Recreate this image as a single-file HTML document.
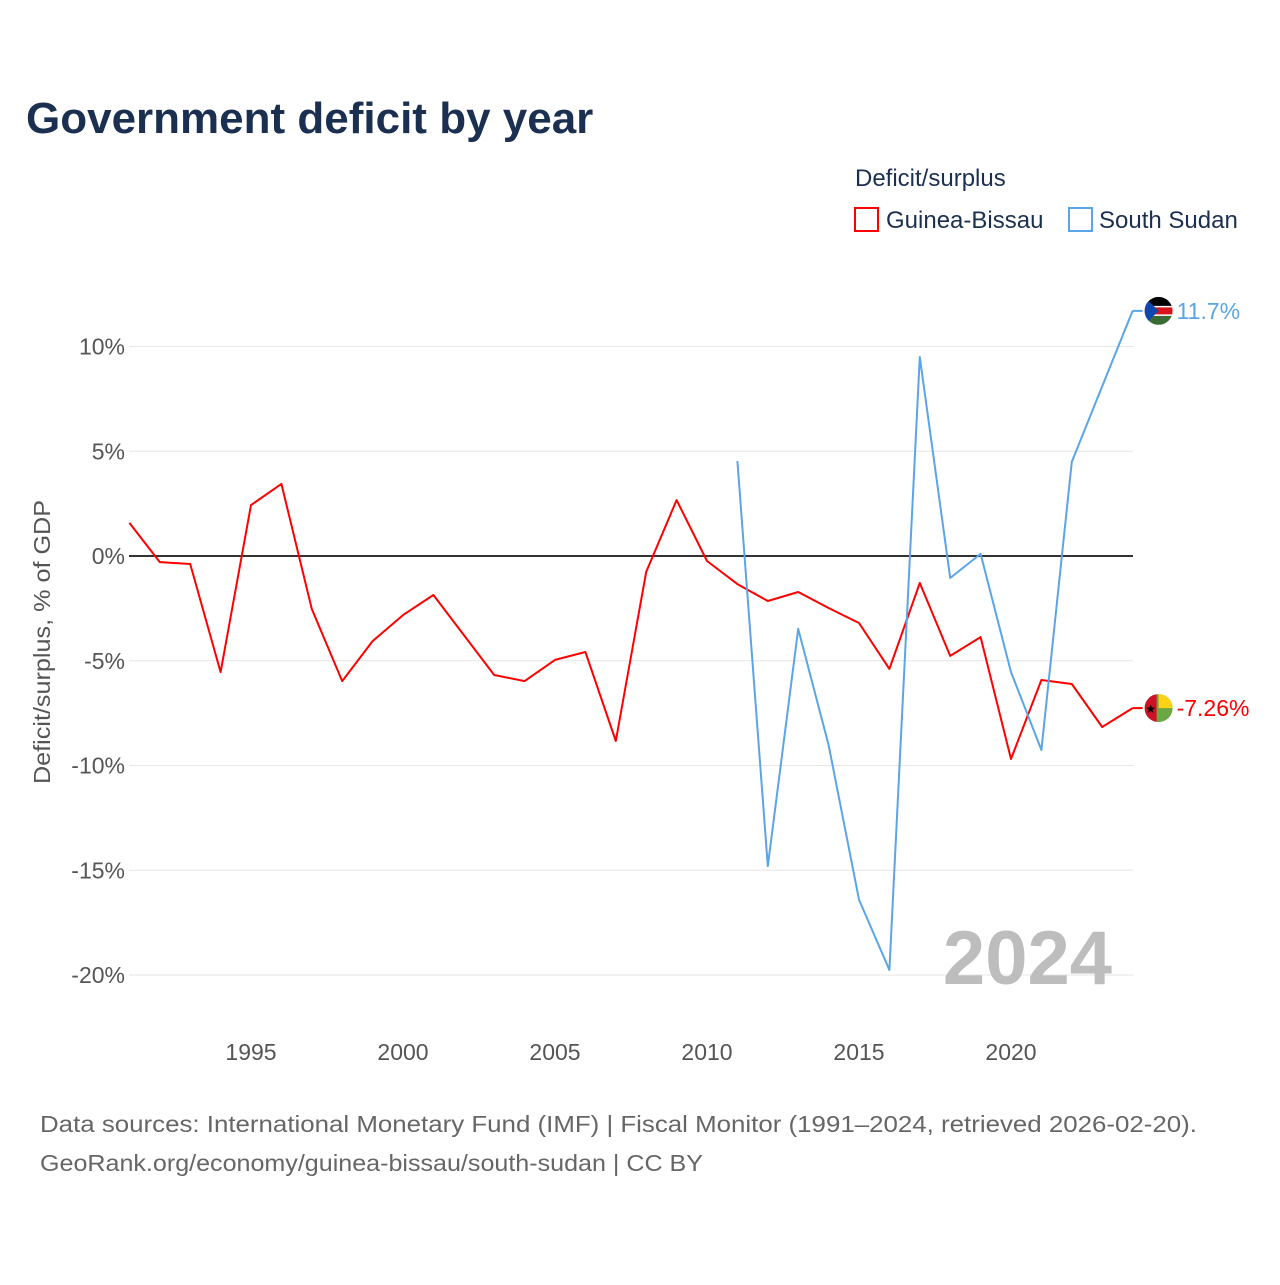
<!DOCTYPE html>
<html><head><meta charset="utf-8">
<style>
body{margin:0;background:#fff;font-family:"Liberation Sans",sans-serif;}
</style></head>
<body>
<svg id="chart" width="1280" height="1280" xmlns="http://www.w3.org/2000/svg" font-family="Liberation Sans, sans-serif">
<text x="26" y="133" font-size="44" font-weight="bold" fill="#1b3050">Government deficit by year</text>
<text x="855" y="186" font-size="24" fill="#1b3050">Deficit/surplus</text>
<g>
<rect x="855" y="208" width="23" height="23" fill="none" stroke="#ff0000" stroke-width="2"/>
<text x="886" y="228" font-size="24" fill="#1b3050">Guinea-Bissau</text></g>
<g>
<rect x="1069" y="208" width="23" height="23" fill="none" stroke="#5aa5e8" stroke-width="2"/>
<text x="1099" y="228" font-size="24" fill="#1b3050">South Sudan</text></g>
<text transform="translate(50,642) rotate(-90)" text-anchor="middle" font-size="23" fill="#555" textLength="284" lengthAdjust="spacingAndGlyphs">Deficit/surplus, % of GDP</text>
<g id="grid"></g><g id="series"></g>
<text x="1112" y="984" text-anchor="end" font-size="76" font-weight="bold" fill="#bdbdbd">2024</text>
<text x="40" y="1132" font-size="23" fill="#666" textLength="1157" lengthAdjust="spacingAndGlyphs">Data sources: International Monetary Fund (IMF) | Fiscal Monitor (1991–2024, retrieved 2026-02-20).</text>
<text x="40" y="1171" font-size="23" fill="#666" textLength="663" lengthAdjust="spacingAndGlyphs">GeoRank.org/economy/guinea-bissau/south-sudan | CC BY</text>
</svg>
<script>
const yTicks=[10,5,0,-5,-10,-15,-20];
const xTicks=[1995,2000,2005,2010,2015,2020];
const gbYears=[1991,1992,1993,1994,1995,1996,1997,1998,1999,2000,2001,2002,2003,2004,2005,2006,2007,2008,2009,2010,2011,2012,2013,2014,2015,2016,2017,2018,2019,2020,2021,2022,2023,2024];
const gbValues=[1.58,-0.29,-0.38,-5.54,2.43,3.44,-2.53,-5.97,-4.06,-2.82,-1.86,-3.77,-5.68,-5.97,-4.96,-4.58,-8.83,-0.76,2.67,-0.24,-1.34,-2.15,-1.72,-2.48,-3.2,-5.39,-1.29,-4.77,-3.87,-9.69,-5.92,-6.11,-8.16,-7.26];
const ssYears=[2011,2012,2013,2014,2015,2016,2017,2018,2019,2020,2021,2022,2023,2024];
const ssValues=[4.53,-14.8,-3.48,-9.02,-16.4,-19.76,9.5,-1.05,0.1,-5.54,-9.26,4.49,8.1,11.7];
const NS="http://www.w3.org/2000/svg";
const x=yr=>129.4+(yr-1991)*30.4;
const y=v=>556-v*20.95;
function mk(t,a,p){const e=document.createElementNS(NS,t);for(const k in a)e.setAttribute(k,a[k]);p.appendChild(e);return e;}
const grid=document.getElementById('grid');
yTicks.forEach(v=>{
 const l=mk('line',{x1:129,x2:1133,y1:y(v),y2:y(v),stroke:v===0?'#333':'#e6e6e6','stroke-width':v===0?2:1},grid);
 
 
 const t=mk('text',{x:125,y:y(v)+8,'text-anchor':'end','font-size':23,fill:'#555'},grid);
 t.textContent=v+'%';
 
 
});
xTicks.forEach(yr=>{
 const t=mk('text',{x:x(yr),y:1060,'text-anchor':'middle','font-size':23,fill:'#555'},grid);
 t.textContent=yr;
 
 
});
const s=document.getElementById('series');
function line(years,vals,color,name,label,flag){
 const pts=years.map((yr,i)=>x(yr).toFixed(1)+','+y(vals[i]).toFixed(1)).join(' ');
 const p=mk('polyline',{points:pts,fill:'none',stroke:color,'stroke-width':2,'stroke-linejoin':'round'},s);
 
 
 const lv=vals[vals.length-1],ly=y(lv),lx=x(years[years.length-1]);
 mk('line',{x1:lx,x2:lx+10,y1:ly,y2:ly,stroke:color,'stroke-width':2},s);
 const g=mk('g',{},s);
 
 
 flag(g,lx+26,ly);
 const t=mk('text',{x:lx+44,y:ly+8,'font-size':23,fill:color},s);
 t.textContent=label;
 
 
}
line(gbYears,gbValues,'#ff0000','guinea-bissau','-7.26%',(g,cx,cy)=>{
 const cp=mk('clipPath',{id:'c1'},g);mk('circle',{cx:cx,cy:cy,r:14},cp);
 const gg=mk('g',{'clip-path':'url(#c1)'},g);
 mk('rect',{x:cx-14,y:cy-14,width:28,height:28,fill:'#6aa842'},gg);
 mk('rect',{x:cx,y:cy-14,width:14,height:14,fill:'#fcd116'},gg);
 mk('rect',{x:cx-14,y:cy-14,width:12,height:28,fill:'#ce1126'},gg);
 mk('text',{x:cx-8,y:cy+5,'font-size':12,'text-anchor':'middle',fill:'#000'},gg).textContent='★';
});
line(ssYears,ssValues,'#5aa5e8','south-sudan','11.7%',(g,cx,cy)=>{
 const cp=mk('clipPath',{id:'c2'},g);mk('circle',{cx:cx,cy:cy,r:14},cp);
 const gg=mk('g',{'clip-path':'url(#c2)'},g);
 mk('rect',{x:cx-14,y:cy-14,width:28,height:10,fill:'#000'},gg);
 mk('rect',{x:cx-14,y:cy-4,width:28,height:8,fill:'#da121a'},gg);
 mk('rect',{x:cx-14,y:cy+4,width:28,height:10,fill:'#3a6b35'},gg);
 mk('rect',{x:cx-14,y:cy-5,width:28,height:1.5,fill:'#fff'},gg);
 mk('rect',{x:cx-14,y:cy+3.5,width:28,height:1.5,fill:'#fff'},gg);
 mk('polygon',{points:`${cx-14},${cy-14} ${cx},${cy} ${cx-14},${cy+14}`,fill:'#0f47af'},gg);
});
</script>
</body></html>
